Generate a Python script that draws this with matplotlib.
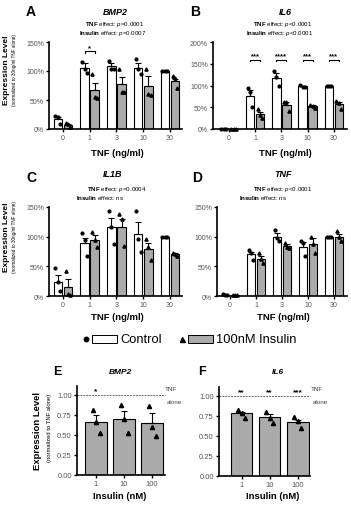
import matplotlib
matplotlib.use('Agg')
import matplotlib.pyplot as plt
from matplotlib.patches import Rectangle

plt.rcParams['font.family'] = ['Liberation Sans', 'DejaVu Sans']
plt.rcParams['mathtext.fontset'] = 'custom'
plt.rcParams['mathtext.rm'] = 'Liberation Sans'
plt.rcParams['mathtext.it'] = 'Liberation Sans:italic'
plt.rcParams['mathtext.bf'] = 'Liberation Sans:bold'

# ---------------- data ----------------
tnf_doses = ['0', '1', '3', '10', '30']
insulin_doses = ['1', '10', '100']

bmp2_ctrl_mean = [17, 105, 108, 106, 100]
bmp2_ctrl_sem = [4, 8, 5, 7, 0]
bmp2_ctrl_pts = [[22, 20, 9], [115, 104, 96], [117, 104, 103], [121, 103, 94], [100, 100, 100]]
bmp2_ins_mean = [7, 68, 77, 74, 83]
bmp2_ins_sem = [2, 12, 13, 17, 4]
bmp2_ins_pts = [[11, 8, 3], [94, 56, 54], [104, 64, 63], [103, 60, 59], [92, 88, 70]]

il6_ctrl_mean = [0.5, 76, 118, 98, 100]
il6_ctrl_sem = [0.3, 13, 10, 2, 0]
il6_ctrl_pts = [[1, 0.5, 0.3], [95, 85, 50], [134, 120, 100], [101, 97, 96], [100, 100, 100]]
il6_ins_mean = [0.5, 34, 55, 52, 57]
il6_ins_sem = [0.3, 6, 6, 3, 5]
il6_ins_pts = [[1, 0.5, 0.3], [46, 32, 25], [62, 61, 42], [56, 52, 48], [64, 60, 47]]

il1b_ctrl_mean = [24, 89, 116, 105, 100]
il1b_ctrl_sem = [12, 9, 15, 19, 0]
il1b_ctrl_pts = [[48, 23, 8], [106, 95, 68], [143, 117, 88], [144, 96, 75], [100, 100, 100]]
il1b_ins_mean = [15, 95, 117, 80, 70]
il1b_ins_sem = [13, 8, 13, 10, 2]
il1b_ins_pts = [[42, 3, 2], [108, 95, 83], [138, 130, 84], [96, 83, 61], [73, 70, 67]]

tnf_ctrl_mean = [2, 70, 100, 83, 100]
tnf_ctrl_sem = [0.5, 4, 6, 8, 0]
tnf_ctrl_pts = [[3, 2, 1], [78, 72, 60], [111, 98, 92], [92, 90, 68], [100, 100, 100]]
tnf_ins_mean = [1.5, 63, 84, 87, 100]
tnf_ins_sem = [0.5, 5, 3, 11, 5]
tnf_ins_pts = [[2, 1.5, 1], [72, 63, 55], [89, 83, 81], [100, 88, 72], [109, 100, 92]]

e_mean = [0.66, 0.70, 0.65]
e_sem = [0.09, 0.10, 0.12]
e_pts = [[0.81, 0.66, 0.52], [0.87, 0.70, 0.52], [0.86, 0.60, 0.49]]
e_sig = ['*', '', '']

f_mean = [0.78, 0.73, 0.67]
f_sem = [0.02, 0.04, 0.03]
f_pts = [[0.82, 0.79, 0.72], [0.80, 0.72, 0.66], [0.74, 0.68, 0.60]]
f_sig = ['**', '**', '***']

a_sig = ['', '*', '', '', '']
b_sig = ['', '***', '****', '***', '***']

# ---------------- style ----------------
W, H = 351, 506
fig = plt.figure(figsize=(W / 100, H / 100), dpi=100)
GRAY = '#ababab'
TICKC = '#555555'
jit = [-0.09, 0.0, 0.09]

def add_ax(x0, x1, ytop, ybot):
    return fig.add_axes([x0 / W, 1 - ybot / H, (x1 - x0) / W, (ybot - ytop) / H])

def style(ax, fs=5):
    for s in ['top', 'right']:
        ax.spines[s].set_visible(False)
    for s in ['left', 'bottom']:
        ax.spines[s].set_linewidth(1.2)
    ax.tick_params(length=2.2, width=1.0, labelsize=fs, labelcolor=TICKC, pad=1.5)

def pct(v):
    return f'{int(v)}%'

def tnf_panel(ax, cm, cs, cp, im, isem, ip, ymax, step, xl, sig=None, sigy=None):
    n = len(tnf_doses)
    xs = list(range(n))
    off, bw = 0.19, 0.32
    xc = [x - off for x in xs]
    xi = [x + off for x in xs]
    ax.bar(xc, cm, width=bw, color='white', edgecolor='black', linewidth=0.8, zorder=2)
    ax.bar(xi, im, width=bw, color=GRAY, edgecolor='black', linewidth=0.8, zorder=2)
    ax.errorbar(xc, cm, yerr=[[0] * n, cs], fmt='none', ecolor='black', elinewidth=0.8,
                capsize=2, capthick=0.8, zorder=3)
    ax.errorbar(xi, im, yerr=[[0] * n, isem], fmt='none', ecolor='black', elinewidth=0.8,
                capsize=2, capthick=0.8, zorder=3)
    for i in range(n):
        for j, v in enumerate(cp[i]):
            ax.plot(xc[i] + jit[j], v, 'o', ms=2.0, color='black', zorder=4, clip_on=False)
        for j, v in enumerate(ip[i]):
            ax.plot(xi[i] + jit[j], v, '^', ms=2.3, color='black', zorder=4, clip_on=False)
    ax.set_xlim(*xl)
    ax.set_ylim(0, ymax)
    ax.set_xticks(xs)
    ax.set_xticklabels(tnf_doses)
    yt = list(range(0, ymax + 1, step))
    ax.set_yticks(yt)
    ax.set_yticklabels([pct(v) for v in yt])
    style(ax)
    if sig is not None:
        for i, s in enumerate(sig):
            if s:
                ax.plot([xc[i], xc[i], xi[i], xi[i]],
                        [sigy - ymax * 0.015, sigy, sigy, sigy - ymax * 0.015],
                        color='black', lw=0.8, clip_on=False)
                ax.text(xs[i], sigy + ymax * 0.005, s, ha='center', va='bottom',
                        fontsize=5.5, fontweight='bold')

axA = add_ax(49, 182, 43, 130)
tnf_panel(axA, bmp2_ctrl_mean, bmp2_ctrl_sem, bmp2_ctrl_pts, bmp2_ins_mean, bmp2_ins_sem,
          bmp2_ins_pts, 150, 50, (-0.52, 4.45), a_sig, 134)
axB = add_ax(213, 347, 43, 130)
tnf_panel(axB, il6_ctrl_mean, il6_ctrl_sem, il6_ctrl_pts, il6_ins_mean, il6_ins_sem,
          il6_ins_pts, 200, 50, (-0.6, 4.5), b_sig, 159)
axC = add_ax(49, 182, 208, 297)
tnf_panel(axC, il1b_ctrl_mean, il1b_ctrl_sem, il1b_ctrl_pts, il1b_ins_mean, il1b_ins_sem,
          il1b_ins_pts, 150, 50, (-0.52, 4.45))
axD = add_ax(217, 347, 208, 297)
tnf_panel(axD, tnf_ctrl_mean, tnf_ctrl_sem, tnf_ctrl_pts, tnf_ins_mean, tnf_ins_sem,
          tnf_ins_pts, 150, 50, (-0.5, 4.5))

def ins_panel(ax, m, s, p, sig, xl):
    n = len(insulin_doses)
    xs = list(range(n))
    ax.axhline(1.0, color='#666666', lw=0.7, ls=(0, (2, 1)), zorder=1, clip_on=False)
    ax.bar(xs, m, width=0.76, color=GRAY, edgecolor='black', linewidth=0.8, zorder=2)
    ax.errorbar(xs, m, yerr=[[0] * n, s], fmt='none', ecolor='black', elinewidth=0.8,
                capsize=2.2, capthick=0.8, zorder=3)
    for i in range(n):
        for j, v in enumerate(p[i]):
            ax.plot(xs[i] + jit[j] * 1.4, v, '^', ms=3.0, color='black', zorder=4)
        if sig[i]:
            ax.text(xs[i], 1.005, sig[i], ha='center', va='bottom', fontsize=6, fontweight='bold')
    ax.set_xlim(*xl)
    ax.set_ylim(0, 1.11)
    ax.set_xticks(xs)
    ax.set_xticklabels(insulin_doses)
    yt = [0, 0.25, 0.5, 0.75, 1.0]
    ax.set_yticks(yt)
    ax.set_yticklabels([f'{v:.2f}' for v in yt])
    style(ax, fs=5.5)

axE = add_ax(77, 165, 387, 476)
ins_panel(axE, e_mean, e_sem, e_pts, e_sig, (-0.68, 2.46))
axF = add_ax(219, 310, 388, 477)
ins_panel(axF, f_mean, f_sem, f_pts, f_sig, (-0.8, 2.43))

# ---------------- texts (pixel overlay) ----------------
ov = fig.add_axes([0, 0, 1, 1])
ov.set_xlim(0, W)
ov.set_ylim(H, 0)
ov.axis('off')

def t(x, y, s, **kw):
    ov.text(x, y, s, **kw)

for lab, x, y, fs in [('A', 26, 12, 10), ('B', 190, 12, 10), ('C', 26, 178, 10),
                      ('D', 192, 178, 10), ('E', 53, 372, 9), ('F', 198, 372, 9)]:
    t(x, y, lab, fontsize=fs, fontweight='bold', va='center', ha='left')

def title(x, y, s, fs=6.5):
    t(x, y, s, fontsize=fs, fontweight='bold', fontstyle='italic', ha='center', va='center')

def pline(x, y, s):
    t(x, y, s, fontsize=4.4, ha='center', va='center')

title(115, 12, 'BMP2')
pline(115, 24.5, r'$\mathbf{TNF}$ effect: $\mathit{p}$=0.0001')
pline(113, 33.5, r'$\mathbf{Insulin}$ effect: $\mathit{p}$=0.0007')
title(285, 12, 'IL6')
pline(283, 24.5, r'$\mathbf{TNF}$ effect: $\mathit{p}$<0.0001')
pline(280, 33.5, r'$\mathbf{Insulin}$ effect: $\mathit{p}$<0.0001')
title(113, 174, 'IL1B')
pline(117, 189, r'$\mathbf{TNF}$ effect: $\mathit{p}$=0.0004')
pline(100, 198, r'$\mathbf{Insulin}$ effect: ns')
title(283, 174, 'TNF')
pline(283, 189, r'$\mathbf{TNF}$ effect: $\mathit{p}$<0.0001')
pline(263, 198, r'$\mathbf{Insulin}$ effect: ns')
title(120, 372, 'BMP2', 6)
title(278, 372, 'IL6', 6)

for y in (70, 237):
    t(7, y, 'Expression Level', rotation=90, fontsize=6, fontweight='bold', ha='center', va='center')
    t(15, y, '(normalized to 30ng/ml TNF alone)', rotation=90, fontsize=3.3, ha='center', va='center')
t(38, 431, 'Expression Level', rotation=90, fontsize=6.8, fontweight='bold', ha='center', va='center')
t(50, 428, '(normalized to TNF alone)', rotation=90, fontsize=4.2, ha='center', va='center')

for x, y in [(117, 153), (285, 153), (117, 318), (283, 318)]:
    t(x, y, 'TNF (ng/ml)', fontsize=6.8, fontweight='bold', ha='center', va='center')
t(120, 497, 'Insulin (nM)', fontsize=6.8, fontweight='bold', ha='center', va='center')
t(273, 497, 'Insulin (nM)', fontsize=6.8, fontweight='bold', ha='center', va='center')

for x in (165, 311):
    t(x, 390, 'TNF', fontsize=4.5, color='#444444', ha='left', va='center')
    t(x + 2, 403, 'alone', fontsize=4.5, color='#444444', ha='left', va='center')

# legend
ov.plot([86], [340], 'o', ms=3.2, color='black')
ov.add_patch(Rectangle((92, 336), 25, 8, facecolor='white', edgecolor='black', lw=0.7))
t(120, 340, 'Control', fontsize=9.3, ha='left', va='center')
ov.plot([182], [339.5], '^', ms=3.6, color='black')
ov.add_patch(Rectangle((188, 336), 25, 8, facecolor=GRAY, edgecolor='black', lw=0.7))
t(216, 340, '100nM Insulin', fontsize=9.3, ha='left', va='center')

fig.savefig('out.png', dpi=100)
